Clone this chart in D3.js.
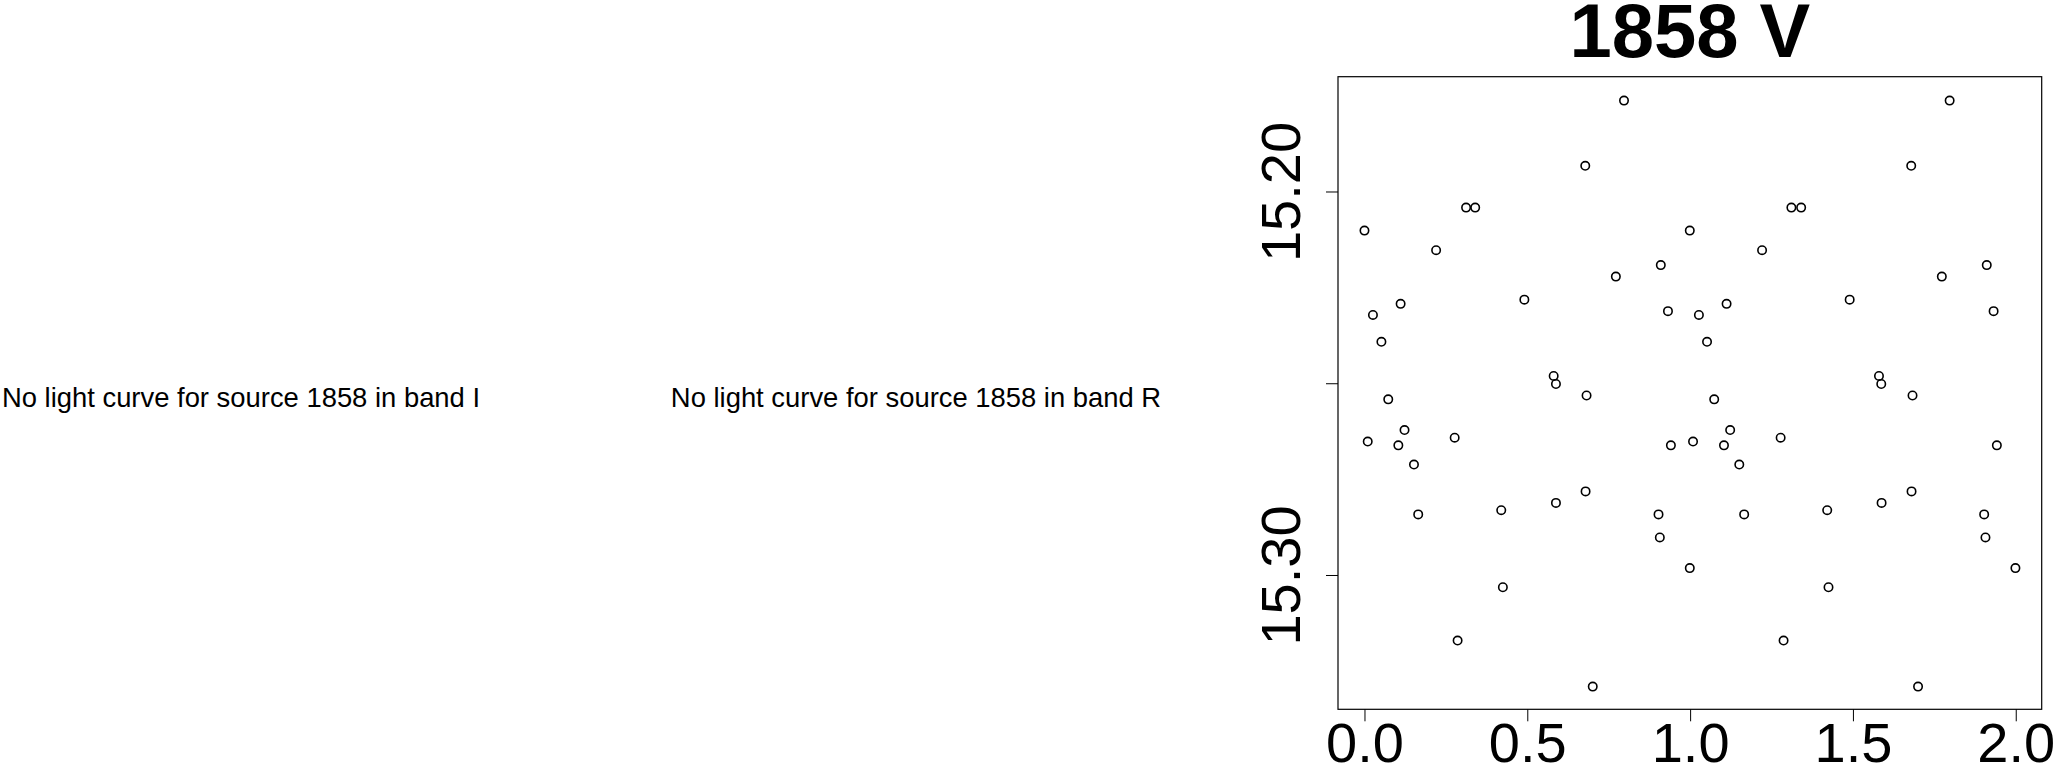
<!DOCTYPE html>
<html>
<head>
<meta charset="utf-8">
<script src="https://cdn.jsdelivr.net/npm/d3@7"></script>
<style>
  html, body { margin: 0; padding: 0; background: #fff; }
  svg { display: block; }
</style>
</head>
<body>
<svg id="chart" width="2057" height="768"></svg>
<script>
// ---- data (phase-folded light curve, shown over two cycles) ----
const phase = [
  0.000, 0.026, 0.052, 0.111, 0.220, 0.312, 0.340, 0.491, 0.581, 0.588,
  0.678, 0.797, 0.772, 0.910, 0.932, 0.682, 0.073, 0.123, 0.010, 0.104,
  0.277, 0.152, 0.165, 0.420, 0.588, 0.679, 0.903, 0.907, 0.941, 0.999,
  0.425, 0.286, 0.701,
  0.999, 1.027, 1.052, 1.112, 1.221, 1.311, 1.341, 1.490, 1.580, 1.587,
  1.679, 1.797, 1.773, 1.911, 1.932, 1.683, 1.074, 1.123, 1.009, 1.104,
  1.278, 1.151, 1.166, 1.421, 1.588, 1.680, 1.903, 1.907, 1.942, 1.999,
  1.425, 1.287, 1.700
];
const mag = [
  15.2102, 15.2322, 15.2392, 15.2293, 15.2153, 15.2042, 15.2042, 15.2282, 15.2481, 15.2502,
  15.1933, 15.1763, 15.2222, 15.2192, 15.2312, 15.2532, 15.2542, 15.2622, 15.2652, 15.2662,
  15.2642, 15.2712, 15.2842, 15.2831, 15.2812, 15.2782, 15.2842, 15.2902, 15.2662, 15.2982,
  15.3032, 15.3171, 15.3291,
  15.2102, 15.2322, 15.2392, 15.2293, 15.2153, 15.2042, 15.2042, 15.2282, 15.2481, 15.2502,
  15.1933, 15.1763, 15.2222, 15.2192, 15.2312, 15.2532, 15.2542, 15.2622, 15.2652, 15.2662,
  15.2642, 15.2712, 15.2842, 15.2831, 15.2812, 15.2782, 15.2842, 15.2902, 15.2662, 15.2982,
  15.3032, 15.3171, 15.3291
];
const xTicks = [0, 0.5, 1, 1.5, 2];
const xTickLabels = ["0.0", "0.5", "1.0", "1.5", "2.0"];
const yTicks = [15.20, 15.25, 15.30];
const yTickLabels = ["15.20", "", "15.30"];
const plotTitle = "1858 V";
const messages = [
  "No light curve for source 1858 in band I",
  "No light curve for source 1858 in band R"
];

// ---- layout ----
const FONT = "'Liberation Sans', Arial, Helvetica, sans-serif";
const box = { left: 1338, right: 2041.7, top: 76.7, bottom: 709.3 };
const svg = d3.select("#chart");
svg.append("rect").attr("width", 2057).attr("height", 768).attr("fill", "#fff");

const x = d3.scaleLinear().domain([-0.0813, 2.0797]).range([box.left, box.right]);
const y = d3.scaleLinear().domain([15.17007, 15.33502]).range([box.top, box.bottom]);

// empty panels' messages
const msgCenters = [241, 916];
svg.selectAll("text.msg").data(messages).enter().append("text")
  .attr("class", "msg")
  .attr("x", (d, i) => msgCenters[i])
  .attr("y", 406.7)
  .attr("text-anchor", "middle")
  .attr("font-family", FONT)
  .attr("font-size", 27.4)
  .attr("fill", "#000")
  .text(d => d);

// title
svg.append("text")
  .attr("x", (box.left + box.right) / 2)
  .attr("y", 56.7)
  .attr("text-anchor", "middle")
  .attr("font-family", FONT)
  .attr("font-weight", "bold")
  .attr("font-size", 76)
  .attr("fill", "#000")
  .text(plotTitle);

// x axis
const xAxis = d3.axisBottom(x)
  .tickValues(xTicks)
  .tickFormat((d, i) => xTickLabels[i])
  .tickSize(12)
  .tickPadding(1.4);
const gx = svg.append("g")
  .attr("transform", `translate(0,${box.bottom})`)
  .call(xAxis);
gx.select(".domain").remove();
gx.selectAll(".tick line").attr("stroke", "#000").attr("stroke-width", 1);
gx.selectAll(".tick text")
  .attr("font-family", FONT)
  .attr("font-size", 56)
  .attr("fill", "#000");

// y axis
const yAxis = d3.axisLeft(y)
  .tickValues(yTicks)
  .tickFormat((d, i) => yTickLabels[i])
  .tickSize(12);
const gy = svg.append("g")
  .attr("transform", `translate(${box.left},0)`)
  .call(yAxis);
gy.select(".domain").remove();
gy.selectAll(".tick line").attr("stroke", "#000").attr("stroke-width", 1);
gy.selectAll(".tick text")
  .attr("x", null).attr("dy", null)
  .attr("text-anchor", "middle")
  .attr("transform", "translate(-38.3,0) rotate(-90)")
  .attr("font-family", FONT)
  .attr("font-size", 56)
  .attr("fill", "#000");

// plot box
svg.append("rect")
  .attr("x", box.left).attr("y", box.top)
  .attr("width", box.right - box.left)
  .attr("height", box.bottom - box.top)
  .attr("fill", "none")
  .attr("stroke", "#000")
  .attr("stroke-width", 1.2);

// points
const pts = phase.map((p, i) => ({ p, m: mag[i] }));
svg.append("g").selectAll("circle").data(pts).enter().append("circle")
  .attr("cx", d => x(d.p))
  .attr("cy", d => y(d.m))
  .attr("r", 4.2)
  .attr("fill", "none")
  .attr("stroke", "#000")
  .attr("stroke-width", 1.6);
</script>
</body>
</html>
